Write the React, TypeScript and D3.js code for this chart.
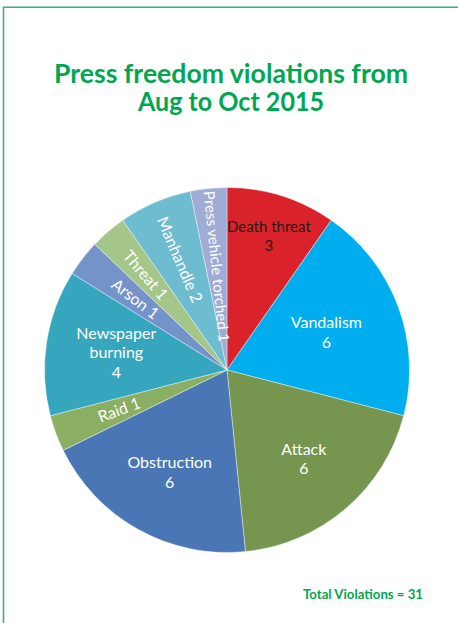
import React from "react";
import * as d3 from "d3";

const categories = ["Death threat", "Vandalism", "Attack", "Obstruction", "Raid", "Newspaper burning", "Arson", "Threat", "Manhandle", "Press vehicle torched"];
const values = [3, 6, 6, 6, 1, 4, 1, 1, 2, 1];
const colors = ["#d9222a", "#00aeef", "#76954f", "#4a76b6", "#8aae62", "#36a6bf", "#7493c9", "#a4c688", "#6dbcd0", "#a0acd4"];
const titleLines = ["Press freedom violations from", "Aug to Oct 2015"];
const totalLabel = "Total Violations = 31";

// label layout (style config)
const labelRadius = [140, 106, 118, 118, 115, 112, 116, 125, 120, 104];
const labelSize = [15, 16, 16, 16, 16, 16, 16, 16, 16, 15];
const radialLabel = [false, false, false, false, true, false, true, true, true, true];
const labelLines: string[][] = [
  ["Death threat", "3"],
  ["Vandalism", "6"],
  ["Attack", "6"],
  ["Obstruction", "6"],
  ["Raid 1"],
  ["Newspaper", "burning", "4"],
  ["Arson 1"],
  ["Threat  1"],
  ["Manhandle 2"],
  ["Press vehicle torched 1"],
];

const W = 458, H = 623;
const cx = 227, cy = 370, R = 182.5;
const font = "Lato, 'Open Sans', sans-serif";

export default function App() {
  const pie = d3.pie<number>().value((d) => d).sort(null);
  const arcs = pie(values);
  const arc = d3.arc<d3.PieArcDatum<number>>().innerRadius(0).outerRadius(R);
  return (
    <svg width={W} height={H} style={{ position: "absolute", left: 0, top: 0 }}>
      <rect width={W} height={H} fill="#fff" />
      <line x1={3.5} y1={7} x2={3.5} y2={H} stroke="#3cb371" strokeWidth={1.6} />
      <line x1={3} y1={7.3} x2={W} y2={7.3} stroke="#3cb371" strokeWidth={1.4} />
      <g fontFamily={font} fontWeight={700} fill="#00a651" textAnchor="middle">
        <text x={231} y={83} fontSize={26.5} textLength={354} lengthAdjust="spacingAndGlyphs">{titleLines[0]}</text>
        <text x={231} y={111} fontSize={26.5} textLength={186} lengthAdjust="spacingAndGlyphs">{titleLines[1]}</text>
      </g>
      <g transform={`translate(${cx},${cy})`}>
        {arcs.map((a, i) => (
          <path key={categories[i]} d={arc(a) || ""} fill={colors[i]} stroke="#fff" strokeWidth={0.4} />
        ))}
        {arcs.map((a, i) => {
          const mid = (a.startAngle + a.endAngle) / 2;
          const r = labelRadius[i];
          const x = r * Math.sin(mid);
          const y = -r * Math.cos(mid);
          const fill = i === 0 ? "#2a1a1a" : "#fff";
          if (radialLabel[i]) {
            const deg = (Math.atan2(Math.cos(mid), -Math.sin(mid)) * 180) / Math.PI;
            return (
              <text key={i} transform={`translate(${x},${y}) rotate(${deg})`} textAnchor="middle" dy="0.35em" fontFamily={font} fontSize={labelSize[i]} fill={fill}>
                {labelLines[i][0]}
              </text>
            );
          }
          const n = labelLines[i].length;
          const lh = 19.5;
          return (
            <text key={i} textAnchor="middle" fontFamily={font} fontSize={labelSize[i]} fill={fill}>
              {labelLines[i].map((t, j) => (
                <tspan key={j} x={x} y={y + (j - (n - 1) / 2) * lh + 5}>{t}</tspan>
              ))}
            </text>
          );
        })}
      </g>
      <text x={363} y={599} textAnchor="middle" fontFamily={font} fontWeight={700} fontSize={13} fill="#00a651" textLength={120} lengthAdjust="spacingAndGlyphs">{totalLabel}</text>
    </svg>
  );
}
